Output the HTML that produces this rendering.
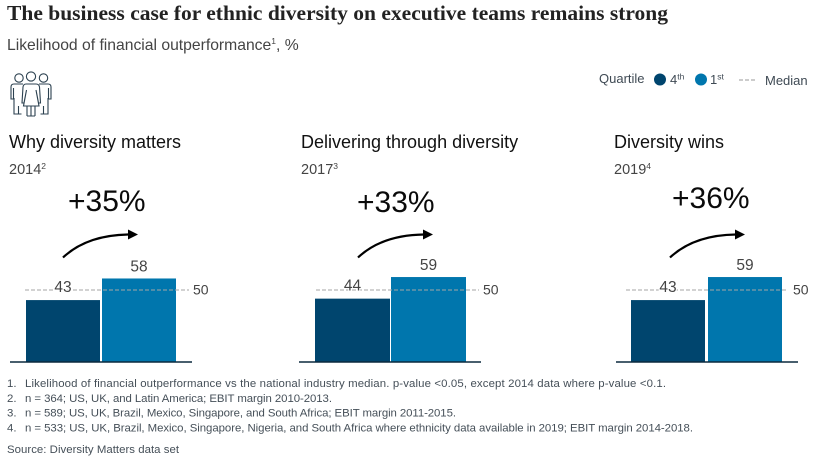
<!DOCTYPE html>
<html lang="en">
<head>
<meta charset="utf-8">
<title>The business case for ethnic diversity</title>
<style>
html,body{margin:0;padding:0;background:#fff;}
svg{display:block;font-family:"Liberation Sans",sans-serif;}
.fn{font-size:11.4px;fill:#454f58;}
.leg{font-size:13px;fill:#3f4a54;}
.sec{font-size:18px;fill:#111;}
.yr{font-size:14.5px;fill:#444;}
.up{font-size:30px;fill:#0a0a0a;}
.val{font-size:15.5px;fill:#444;text-anchor:middle;paint-order:stroke;stroke:#fff;stroke-width:2px;}
.med{font-size:14px;fill:#444;}
.sup{font-size:8.5px;}
</style>
</head>
<body>
<svg id="chart" xmlns="http://www.w3.org/2000/svg" width="822" height="472" viewBox="0 0 822 472">
  <rect width="822" height="472" fill="#fff"/>
  <text x="7" y="20" font-family="'Liberation Serif',serif" font-weight="700" font-size="21.5" fill="#222" textLength="661" lengthAdjust="spacing">The business case for ethnic diversity on executive teams remains strong</text>
  <text x="7" y="50" font-size="15.7" fill="#444">Likelihood of financial outperformance<tspan class="sup" dy="-6">1</tspan><tspan dy="6">, %</tspan></text>

  <g fill="none" stroke="#2c4150" stroke-width="1.1">
    <circle cx="19" cy="78" r="4.2"/>
    <circle cx="31" cy="76.5" r="4.6"/>
    <circle cx="43.5" cy="78" r="4.2"/>
    <path d="M23 84H14q-3 0-3 3v12h2.5V88M14 98v16h4.5V106M18.5 114h3"/>
    <path d="M39 84h9q3 0 3 3v12h-2.5V88M48 98v16h-4.5V106M43.5 114h-3"/>
    <path d="M26 84h10q3 0 3.500 3l1 16h-2l-2.500-13 3 16H23.500l3-16-2.500 13h-2l1-16q.5-3 3-3z"/>
    <path d="M27 106v10M31 106v10M35 106v10M27 116h8"/>
  </g>

  <g>
    <text class="leg" x="599" y="83">Quartile</text>
    <circle cx="660" cy="79.500" r="6" fill="#00456e"/>
    <text class="leg" x="670" y="84">4<tspan class="sup" dy="-4.500">th</tspan></text>
    <circle cx="701" cy="79.500" r="6" fill="#0076ad"/>
    <text class="leg" x="710" y="84">1<tspan class="sup" dy="-4.500">st</tspan></text>
    <line x1="739" x2="755" y1="80" y2="80" stroke="#999" stroke-width="1" stroke-dasharray="4 2"/>
    <text class="leg" x="765" y="85">Median</text>
  </g>

  <g class="panel" transform="translate(10 0)" data-bar1="16" data-bar2="92" data-bar-w="74" data-med-start="15" data-med-end="179" data-med-label="183" data-title-x="-1" data-up-x="58" data-up-y="211" data-arrow-x="53"></g>
  <g class="panel" transform="translate(299 0)" data-bar1="16" data-bar2="92" data-bar-w="75" data-med-start="17" data-med-end="180" data-med-label="184" data-title-x="2" data-up-x="58" data-up-y="212" data-arrow-x="59"></g>
  <g class="panel" transform="translate(616 0)" data-bar1="15" data-bar2="92" data-bar-w="74" data-med-start="10" data-med-end="172" data-med-label="177" data-title-x="-2" data-up-x="56" data-up-y="208" data-arrow-x="54"></g>

  <g>
    <text class="fn" x="7" y="387">1.</text>
    <text class="fn" x="25" y="387" textLength="641" lengthAdjust="spacing">Likelihood of financial outperformance vs the national industry median. p-value &lt;0.05, except 2014 data where p-value &lt;0.1.</text>
    <text class="fn" x="7" y="402">2.</text>
    <text class="fn" x="25" y="402" textLength="307" lengthAdjust="spacing">n = 364; US, UK, and Latin America; EBIT margin 2010-2013.</text>
    <text class="fn" x="7" y="416.500">3.</text>
    <text class="fn" x="25" y="416.500" textLength="431" lengthAdjust="spacing">n = 589; US, UK, Brazil, Mexico, Singapore, and South Africa; EBIT margin 2011-2015.</text>
    <text class="fn" x="7" y="431.500">4.</text>
    <text class="fn" x="25" y="431.500" textLength="668" lengthAdjust="spacing">n = 533; US, UK, Brazil, Mexico, Singapore, Nigeria, and South Africa where ethnicity data available in 2019; EBIT margin 2014-2018.</text>
    <text class="fn" x="7" y="453" textLength="172" lengthAdjust="spacing">Source: Diversity Matters data set</text>
  </g>
</svg>
<script>
const panelTitles = ["Why diversity matters", "Delivering through diversity", "Diversity wins"];
const panelYears = ["2014", "2017", "2019"];
const yearNotes = ["2", "3", "4"];
const upliftLabels = ["+35%", "+33%", "+36%"];
const quartile4Values = [43, 44, 43];
const quartile1Values = [58, 59, 59];
const medianValue = 50;

const NS = "http://www.w3.org/2000/svg";
const baselineY = 362;
const pxPerUnit = 1.44;
function yScale(v) { return baselineY - v * pxPerUnit; }

function make(tag, attrs, parent, text) {
  const el = document.createElementNS(NS, tag);
  for (const k in attrs) el.setAttribute(k, attrs[k]);
  if (text !== undefined) el.textContent = text;
  parent.appendChild(el);
  return el;
}

document.querySelectorAll(".panel").forEach(function (g, i) {
  const d = g.dataset;
  const bar1 = +d.bar1, bar2 = +d.bar2, w = +d.barW;

  const title = make("text", { x: +d.titleX, y: 148, class: "sec" }, g, panelTitles[i]);
  
  

  const year = make("text", { x: +d.titleX, y: 174, class: "yr" }, g, panelYears[i]);
  
  
  const note = make("tspan", { class: "sup", dy: -5 }, year, yearNotes[i]);
  
  

  const up = make("text", { x: +d.upX, y: +d.upY, class: "up" }, g, upliftLabels[i]);
  
  

  const sx = +d.arrowX;
  const arrow = make("path", {
    d: "M" + sx + " 257.500Q" + (sx + 24) + " 235 " + (sx + 66) + " 234.500",
    fill: "none", stroke: "#000", "stroke-width": 2.200
  }, g);
  
  
  const head = make("path", {
    d: "M" + (sx + 65) + " 229.500L" + (sx + 75) + " 234.500L" + (sx + 65) + " 239.500Z",
    fill: "#000"
  }, g);
  
  

  const q4 = make("rect", {
    x: bar1, y: yScale(quartile4Values[i]), width: w,
    height: quartile4Values[i] * pxPerUnit, fill: "#00456e"
  }, g);
  
  

  const q1 = make("rect", {
    x: bar2, y: yScale(quartile1Values[i]), width: w,
    height: quartile1Values[i] * pxPerUnit, fill: "#0076ad"
  }, g);
  
  

  const med = make("line", {
    x1: +d.medStart, x2: +d.medEnd, y1: yScale(medianValue), y2: yScale(medianValue),
    stroke: "#a5a5a5", "stroke-width": 1, "stroke-dasharray": "4 2"
  }, g);
  
  

  const base = make("line", { x1: 0, x2: 182, y1: baselineY, y2: baselineY, stroke: "#0b2a3f", "stroke-width": 1.500 }, g);
  
  

  const l4 = make("text", { x: bar1 + w / 2, y: yScale(quartile4Values[i]) - 8, class: "val" }, g, quartile4Values[i]);
  
  

  const l1 = make("text", { x: bar2 + w / 2, y: yScale(quartile1Values[i]) - 7, class: "val" }, g, quartile1Values[i]);
  
  

  const ml = make("text", { x: +d.medLabel, y: yScale(medianValue) + 4.500, class: "med" }, g, medianValue);
  
  
});
</script>
</body>
</html>
